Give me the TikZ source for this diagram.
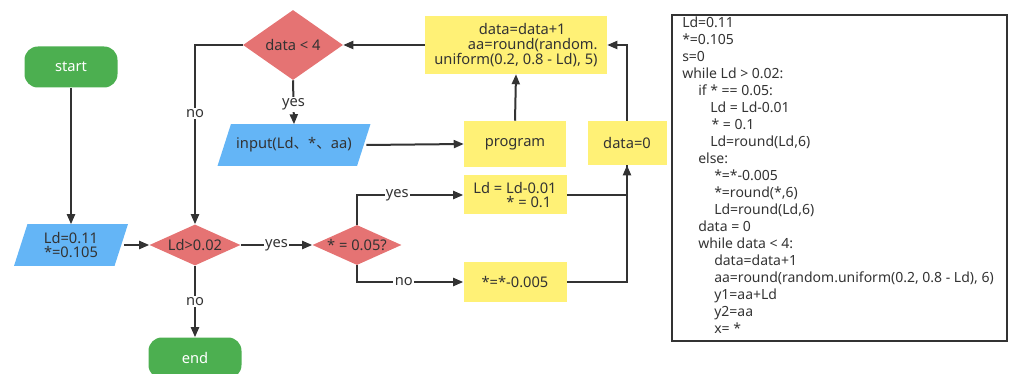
\documentclass[tikz,border=0pt]{standalone}
\usepackage{fontspec}
\setmainfont{Noto Sans}
\newfontfamily\cjk{Noto Sans CJK SC}
\usetikzlibrary{shapes.geometric,arrows.meta,backgrounds}

\definecolor{termgreen}{HTML}{4CAF50}
\definecolor{testred}{HTML}{E57373}
\definecolor{ioblue}{HTML}{64B5F6}
\definecolor{stepyellow}{HTML}{FFF176}
\definecolor{ink}{HTML}{333333}

\begin{document}
\begin{tikzpicture}[x=0.75pt,y=-0.75pt,font=\fontsize{11}{13}\selectfont,text=ink]
		\tikzstyle{term}=[rectangle, rounded corners=10pt, fill=termgreen, text=white, minimum width=69.75pt, minimum height=30.75pt]
		\tikzstyle{test}=[diamond, fill=testred, inner sep=0pt]
		\tikzstyle{io}=[rectangle, inner sep=0pt, minimum height=30.75pt, align=center]
		\tikzstyle{stepbox}=[rectangle, fill=stepyellow, inner sep=2pt]
		\tikzstyle{connect}=[-{Triangle[length=7.5pt,width=6pt]}, line width=1.5pt, draw=ink]
		\tikzstyle{wire}=[line width=1.5pt, draw=ink]
		\tikzstyle{lbl}=[fill=white, inner sep=1pt, text=ink]
		\tikzstyle{slant}=[fill=ioblue]
		\useasboundingbox (0,0) rectangle (1011,374);

		% left column
		\node[term] (start) at (71,67) {start};
		\node[io, minimum width=75pt] (init) at (71,245) {Ld=0.11\\[-2pt]*=0.105};
		\node[test, minimum width=68.25pt, minimum height=30.75pt] (ldtest) at (195,245) {\makebox[0pt]{Ld>0.02}};
		\node[term] (stop) at (195,358) {end};

		% inner loop
		\node[test, minimum width=75pt, minimum height=52.5pt] (datatest) at (293,45) {\makebox[0pt]{data < 4}};
		\node[io, minimum width=104.25pt] (input) at (294,145) {input(Ld{\cjk 、}*{\cjk 、}aa)};
		\node[stepbox, minimum width=76.5pt, minimum height=34.5pt] (prog) at (515,144) {program};
		\node[stepbox, align=right, minimum width=136.5pt, minimum height=43.5pt] (incr) at (516,45) {data=data+1\hspace*{24pt}\\[-2pt]aa=round(random.\\[-2pt]uniform(0.2, 0.8 - Ld), 5)};
		\node[stepbox, minimum width=59.25pt, minimum height=33pt] (reset) at (627,143) {data=0};

		% branch on *
		\node[test, minimum width=66.75pt, minimum height=30pt] (startest) at (357,245) {\makebox[0pt]{* = 0.05?}};
		\node[stepbox, align=right, minimum width=77.25pt, minimum height=29.25pt] (ldstep) at (515,195) {Ld = Ld-0.01\\[-2pt]* = 0.1\hspace*{4pt}};
		\node[stepbox, minimum width=77.25pt, minimum height=29.25pt] (stardec) at (515,282) {*=*-0.005};

		% parallelograms behind the io text
		\begin{scope}[on background layer]
			\fill[slant] ([xshift=-5pt]init.south west) -- ([xshift=-5pt]init.south east) -- ([xshift=5pt]init.north east) -- ([xshift=5pt]init.north west) -- cycle;
			\fill[slant] ([xshift=-5pt]input.south west) -- ([xshift=-5pt]input.south east) -- ([xshift=5pt]input.north east) -- ([xshift=5pt]input.north west) -- cycle;
		\end{scope}

		\path (start) edge [connect] (init);
		\draw[connect] ([xshift=2pt]init.east) -- (ldtest.west);
		\draw[connect] (ldtest.east) -- node[lbl] {yes} (startest.west);
		\draw[connect] (ldtest.south) -- node[lbl] {no} (stop.north);
		\draw[connect] (datatest.west) -| node[lbl, pos=0.69] {no} (ldtest.north);
		\draw[connect] (datatest.south) -- node[lbl, pos=0.55] {yes} (input.north);
		\draw[connect] ([xshift=2pt]input.east) -- (prog.west);
		\path (prog.north) edge [connect] (incr.south);
		\path (incr.west) edge [connect] (datatest.east);
		\draw[connect] (reset.north) |- (incr.east);
		\draw[connect] (startest.north) |- node[lbl, pos=0.69] {yes} (ldstep.west);
		\draw[connect] (startest.south) |- node[lbl, pos=0.72] {no} (stardec.west);
		\draw[wire] (ldstep.east) -| (reset.south);
		\draw[connect] (stardec.east) -| (reset.south);

		% program listing
		\node[draw=ink, line width=1.5pt, minimum width=251.25pt, minimum height=244.5pt, anchor=north west] (codebox) at (671,14) {};
		\node[anchor=north west, align=left, inner sep=0pt, font=\fontsize{10.5}{12.75}\selectfont] (code) at (682,17) {%
Ld=0.11\\
*=0.105\\
s=0\\
while Ld > 0.02:\\
\hspace*{12pt}if * == 0.05:\\
\hspace*{21pt}Ld = Ld-0.01\\
\hspace*{22pt}* = 0.1\\
\hspace*{21pt}Ld=round(Ld,6)\\
\hspace*{12pt}else:\\
\hspace*{24pt}*=*-0.005\\
\hspace*{24pt}*=round(*,6)\\
\hspace*{24pt}Ld=round(Ld,6)\\
\hspace*{12pt}data = 0\\
\hspace*{12pt}while data < 4:\\
\hspace*{24pt}data=data+1\\
\hspace*{24pt}aa=round(random.uniform(0.2, 0.8 - Ld), 6)\\
\hspace*{24pt}y1=aa+Ld\\
\hspace*{24pt}y2=aa\\
\hspace*{24pt}x= *};
	\end{tikzpicture}
\end{document}
